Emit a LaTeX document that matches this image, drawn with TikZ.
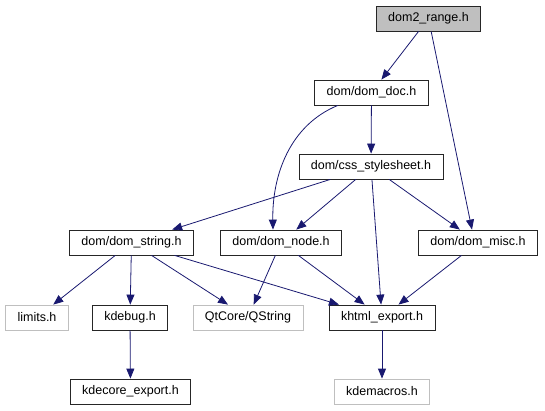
\documentclass[tikz,border=0pt]{standalone}
\usepackage{fontspec}
\setmainfont{Liberation Sans}
\usetikzlibrary{arrows.meta,calc,positioning}
\definecolor{edgeblue}{HTML}{191970}
\definecolor{lightgrey}{HTML}{BFBFBF}
\tikzset{
  file/.style={draw=black!85, thick, rectangle, inner xsep=12pt, minimum height=25pt,
    font=\fontsize{12.5}{14}\selectfont},
  current/.style={file, fill=lightgrey},
  external/.style={file, draw=lightgrey},
  dep/.style={-{Triangle[length=10pt,width=8pt]}, edgeblue, thick}
}
\begin{document}
\begin{tikzpicture}[x=1pt,y=-1pt]
        \useasboundingbox (0,0) rectangle (545,411);
        %Nodes
        \node[current]  (range)    at (428.5,18.5)  {dom2\_range.h};
        \node[file]     (doc)      at (371.5,92.5)  {dom/dom\_doc.h};
        \node[file]     (css)      at (371,166.5)   {dom/css\_stylesheet.h};
        \node[file]     (string)   at (131.5,242.5) {dom/dom\_string.h};
        \node[file]     (domnode)  at (281,242.5)   {dom/dom\_node.h};
        \node[file]     (misc)     at (478,242.5)   {dom/dom\_misc.h};
        \node[external] (limits)   at (37,317.5)    {limits.h};
        \node[file]     (kdebug)   at (130,317.5)   {kdebug.h};
        \node[external] (qstring)  at (248,317.5)   {QtCore/QString};
        \node[file]     (khtml)    at (382,317.5)   {khtml\_export.h};
        \node[file]     (kdecore)  at (130.5,391.5) {kdecore\_export.h};
        \node[external] (kdemacros) at (382,391.5)  {kdemacros.h};
        %Edges
        \draw[dep] (range) -- (doc);
        \draw[dep] (range) -- ([xshift=-6pt]misc.north);
        \draw[dep] (doc) -- (css);
        \draw[dep] (doc.201.6) .. controls (290,125) and (272,175) .. ([xshift=-8pt]domnode.north);
        \draw[dep] (css) -- (string);
        \draw[dep] (css) -- (domnode);
        \draw[dep] (css) -- (khtml);
        \draw[dep] (css) -- (misc);
        \draw[dep] (string) -- (limits);
        \draw[dep] (string) -- (kdebug);
        \draw[dep] (string) -- (qstring);
        \draw[dep] (string) -- (khtml);
        \draw[dep] (domnode) -- (qstring);
        \draw[dep] (domnode) -- (khtml);
        \draw[dep] (misc) -- (khtml);
        \draw[dep] (kdebug) -- (kdecore);
        \draw[dep] (khtml) -- (kdemacros);
      \end{tikzpicture}
\end{document}
